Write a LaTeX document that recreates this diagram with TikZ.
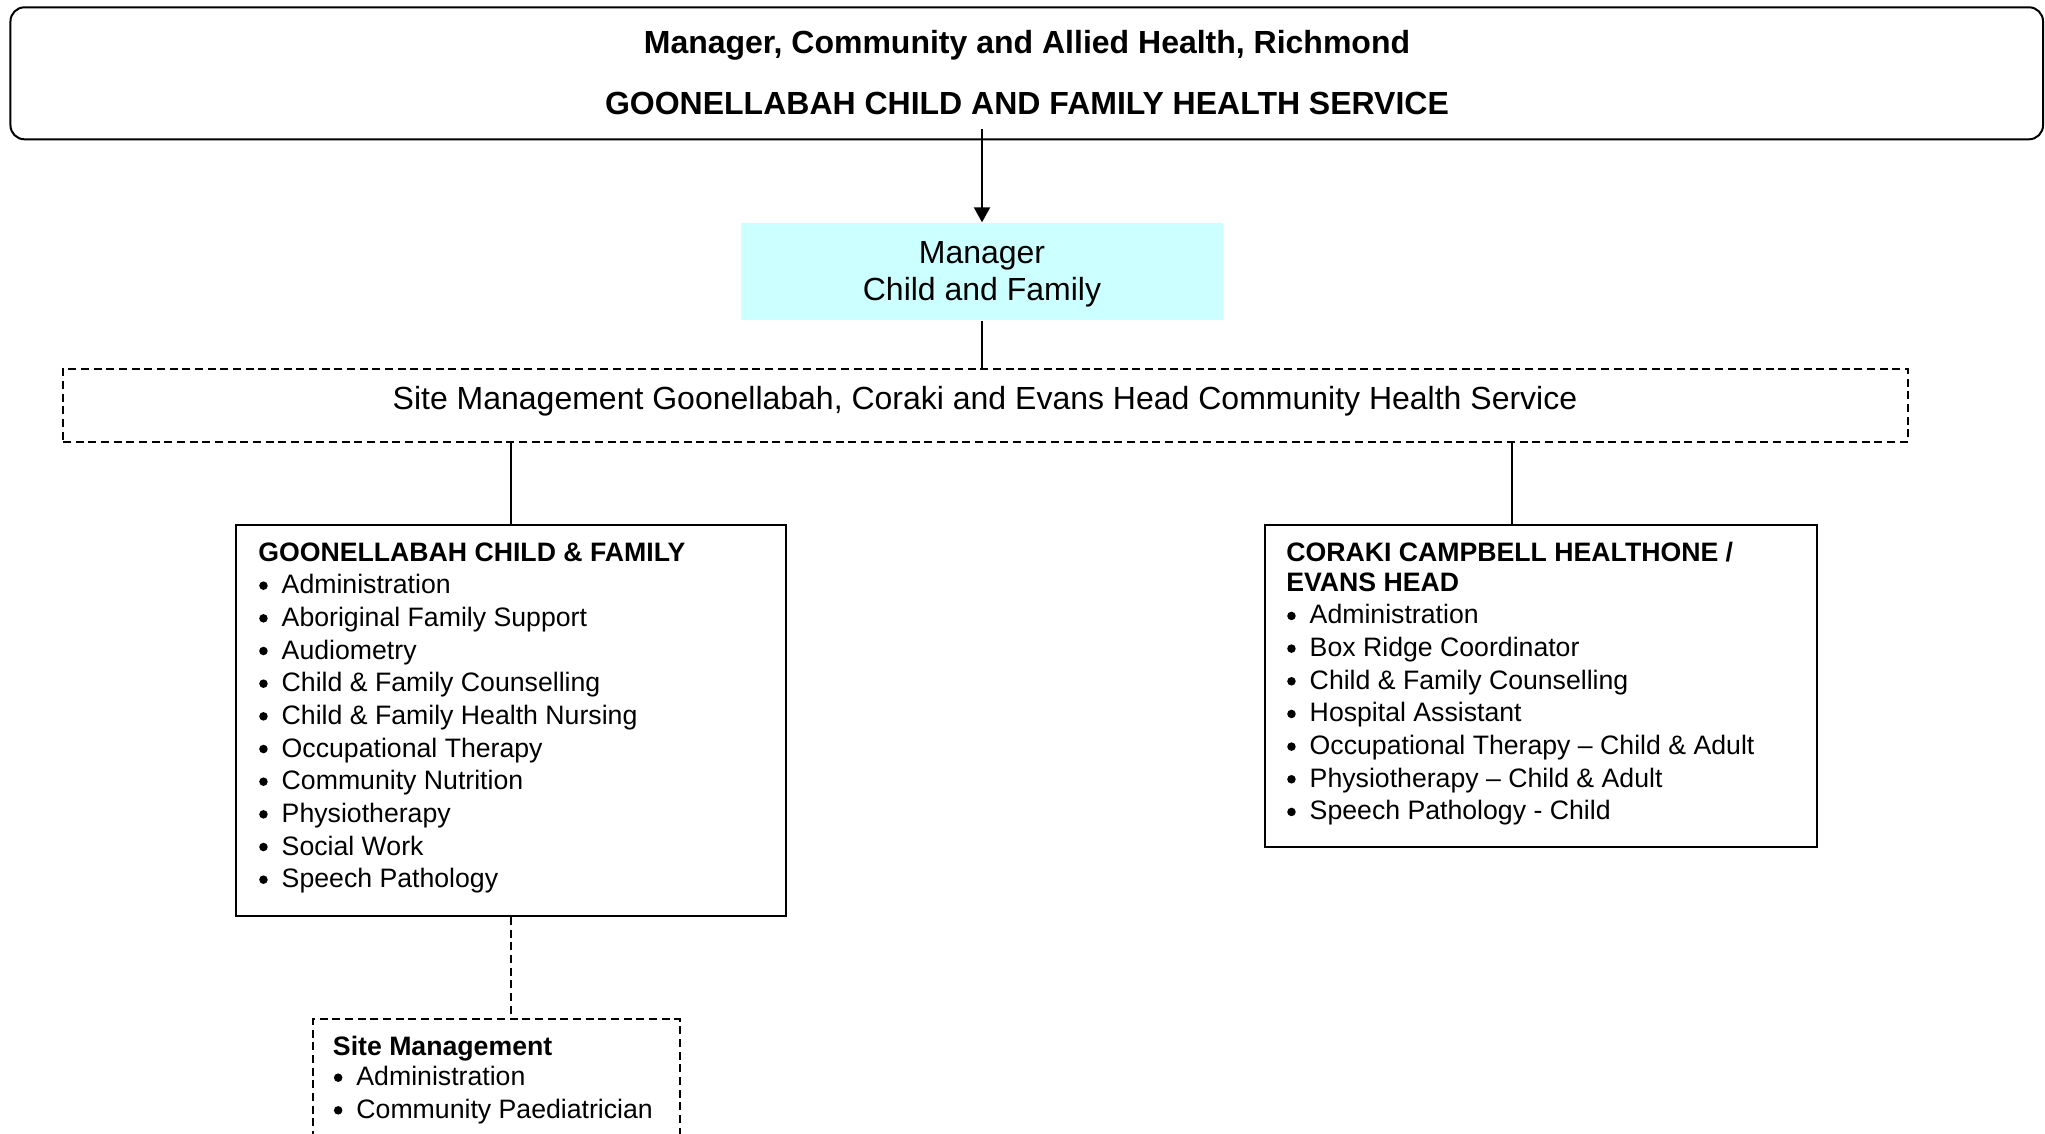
\documentclass[tikz,border=0pt]{standalone}
\usepackage{fontspec}
\setmainfont{Liberation Sans}
\usetikzlibrary{arrows.meta}
\definecolor{mgrcyan}{RGB}{204,255,255}
\newcommand\itm{\makebox[17.6pt][l]{\tikz[baseline=0pt]{\path (0pt,0pt); \fill[black] (3.9pt,6pt) circle[radius=3.2pt];}}}
\begin{document}
\begin{tikzpicture}[x=0.75pt,y=-0.75pt,
  line width=1.5pt,
  box/.style={draw=black, line width=1.5pt, inner sep=0pt},
  dbox/.style={box, dash pattern=on 6pt off 3.5pt},
  big/.style={inner sep=0pt, font=\fontsize{24pt}{27.6pt}\selectfont},
  bigb/.style={inner sep=0pt, font=\fontsize{24pt}{27.6pt}\selectfont\bfseries},
  lst/.style={inner sep=0pt, anchor=base west, font=\fontsize{20pt}{24.5pt}\selectfont},
  conn/.style={draw=black, line width=1.5pt},
  dconn/.style={conn, dash pattern=on 6pt off 3.5pt}]
\useasboundingbox (0,0) rectangle (2045,1133);
\clip (0,0) rectangle (2045,1133);

% boxes
\node[box, rounded corners=10.5pt, minimum width=1524.4pt, minimum height=99pt] (top) at (1026.75,73.3) {};
\node[inner sep=0pt, fill=mgrcyan, minimum width=361.5pt, minimum height=72.5pt] (mgr) at (982,271.65) {};
\node[dbox, minimum width=1383.75pt, minimum height=54.5pt] (site) at (985.5,405.35) {};
\node[box, minimum width=412.5pt, minimum height=293.25pt] (gcf) at (511.4,720.5) {};
\node[box, minimum width=413.8pt, minimum height=241.3pt] (crk) at (1541.15,685.85) {};
\node[dbox, anchor=north west, minimum width=275.5pt, minimum height=106.3pt] (sm) at (311.7,1018.3) {};

% texts
\node[bigb, anchor=base] (t1) at (1027,53) {Manager, Community and Allied Health, Richmond};
\node[bigb, anchor=base] (t2) at (1027,114) {GOONELLABAH CHILD AND FAMILY HEALTH SERVICE};
\node[big, anchor=base] (m1) at (982,263) {Manager};
\node[big, anchor=base] (m2) at (982,300) {Child and Family};
\node[big, anchor=base] (s1) at (985,409) {Site Management Goonellabah, Coraki and Evans Head Community Health Service};

\node[lst] (gcfl) at (258,561) {\parbox[t]{500pt}{\raggedright
  \textbf{GOONELLABAH CHILD \& FAMILY}\\
  \itm Administration\\
  \itm Aboriginal Family Support\\
  \itm Audiometry\\
  \itm Child \& Family Counselling\\
  \itm Child \& Family Health Nursing\\
  \itm Occupational Therapy\\
  \itm Community Nutrition\\
  \itm Physiotherapy\\
  \itm Social Work\\
  \itm Speech Pathology}};

\node[lst] (crkl) at (1286,561) {\parbox[t]{500pt}{\raggedright
  \textbf{CORAKI CAMPBELL HEALTHONE /}\\[-1.8pt]
  \textbf{EVANS HEAD}\\
  \itm Administration\\
  \itm Box Ridge Coordinator\\
  \itm Child \& Family Counselling\\
  \itm Hospital Assistant\\
  \itm Occupational Therapy \textendash{} Child \& Adult\\
  \itm Physiotherapy \textendash{} Child \& Adult\\
  \itm Speech Pathology - Child}};

\node[lst] (sml) at (332.7,1055) {\parbox[t]{300pt}{\raggedright
  \textbf{Site Management}\\[-1.5pt]
  \itm Administration\\
  \itm Community Paediatrician}};

% connectors
\path (top.south -| mgr.north) ++(0,-11) coordinate (astart);
\draw[conn, -{Triangle[length=11.25pt,width=12pt]}] (astart) -- (mgr.north);
\draw[conn] (mgr.south) -- (mgr.south |- site.north);
\draw[conn] (site.south -| gcf.north) -- (gcf.north);
\coordinate (rc) at (1512,0);
\draw[conn] (site.south -| rc) -- (crk.north -| rc);
\draw[dconn] (gcf.south) -- (gcf.south |- sm.north);
\end{tikzpicture}
\end{document}
